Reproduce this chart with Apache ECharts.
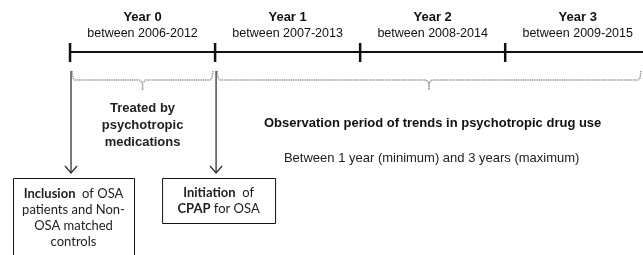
<!DOCTYPE html>
<html><head><meta charset="utf-8">
<script src="https://cdn.jsdelivr.net/npm/echarts@6/dist/echarts.min.js"></script>
<style>html,body{margin:0;padding:0;background:#fff}#c{width:643px;height:255px}</style>
</head><body><div id="c"></div>
<script>
// ---- data ----
const yearLabels = ['Year 0', 'Year 1', 'Year 2', 'Year 3'];
const yearRanges = ['between 2006-2012', 'between 2007-2013', 'between 2008-2014', 'between 2009-2015'];
const yearStarts = [0, 1, 2, 3];
const axisEnd = 3.95;
const periodTitles = ['Treated by\npsychotropic\nmedications', 'Observation period of trends in psychotropic drug use'];
const periodNotes = ['', 'Between 1 year (minimum) and 3 years (maximum)'];
const periodStart = [0, 1];
const periodEnd = [1, 3.95];
const eventYear = [0, 1];
const eventTexts = [
  '{b|Inclusion}  of OSA\npatients and Non-\nOSA matched\ncontrols',
  '{b|Initiation}  of\n{b|CPAP} for OSA'
];

const chart = echarts.init(document.getElementById('c'), null, {renderer: 'canvas'});
const ARIAL = '"Liberation Sans", Arial, sans-serif';
const CAL = 'Lato, "Open Sans", sans-serif';
const pxX = -70 / 145;

const option = {
  animation: false,
  grid: {left: 0, right: 0, top: 0, bottom: 0},
  xAxis: {type: 'value', min: pxX, max: axisEnd, show: false},
  yAxis: {type: 'value', min: 0, max: 255, inverse: true, show: false},
  series: [
    { // timeline main line
      type: 'custom', data: [[yearStarts[0], axisEnd]],
      renderItem: (p, api) => {
        const a = api.coord([api.value(0), 52]), b = api.coord([api.value(1), 52]);
        return {type: 'line', shape: {x1: a[0], y1: a[1], x2: b[0], y2: b[1]}, style: {stroke: '#111', lineWidth: 2}};
      }
    },
    { // ticks and year labels
      type: 'custom', data: yearStarts.map((v, i) => [v, i]),
      renderItem: (p, api) => {
        const v = api.value(0), i = api.value(1);
        const t1 = api.coord([v, 43]), t2 = api.coord([v, 62]);
        const l1 = api.coord([v + 0.5, 17]), l2 = api.coord([v + 0.5, 34]);
        return {type: 'group', children: [
          {type: 'line', shape: {x1: t1[0], y1: t1[1], x2: t2[0], y2: t2[1]}, style: {stroke: '#111', lineWidth: 2.5}},
          {type: 'text', x: l1[0], y: l1[1], style: {text: yearLabels[i], font: 'bold 13px ' + ARIAL, fill: '#111', align: 'center', verticalAlign: 'middle'}},
          {type: 'text', x: l2[0], y: l2[1], style: {text: yearRanges[i], font: '12.5px ' + ARIAL, fill: '#111', align: 'center', verticalAlign: 'middle'}}
        ]};
      }
    },
    { // braces + period labels
      type: 'custom', data: periodStart.map((s, i) => [s, periodEnd[i], i]),
      renderItem: (p, api) => {
        const s = api.value(0), e = api.value(1), i = api.value(2);
        const L = api.coord([s, 80]), R = api.coord([e, 80]);
        const x0 = L[0] + 2, x1 = R[0] - 2, m = (L[0] + R[0]) / 2, y = L[1];
        const pts = [[x0, y - 9], [x0 + 1, y - 2], [x0 + 3, y], [m - 3, y], [m, y + 3], [m, y + 10], [m, y + 3], [m + 3, y], [x1 - 3, y], [x1 - 1, y - 2], [x1, y - 9]];
        const kids = [{type: 'polyline', shape: {points: pts}, style: {stroke: '#999', lineWidth: 1.5, fill: null, lineDash: [1.5, 0.8]}}];
        if (i === 0) {
          const t = api.coord([s + 0.5, 125]);
          kids.push({type: 'text', x: t[0], y: t[1], style: {text: periodTitles[i], font: 'bold 13px ' + ARIAL, lineHeight: 17, fill: '#222', align: 'center', verticalAlign: 'middle'}});
        } else {
          const t = api.coord([s + 1.5, 123]), n = api.coord([s + 1.5, 158]);
          kids.push({type: 'text', x: t[0], y: t[1], style: {text: periodTitles[i], font: 'bold 13px ' + ARIAL, fill: '#111', align: 'center', verticalAlign: 'middle'}});
          kids.push({type: 'text', x: n[0] - 1, y: n[1], style: {text: periodNotes[i], font: '13px ' + ARIAL, fill: '#222', align: 'center', verticalAlign: 'middle'}});
        }
        return {type: 'group', children: kids};
      }
    },
    { // event arrows + boxes
      type: 'custom', data: eventYear.map((v, i) => [v, i]),
      renderItem: (p, api) => {
        const v = api.value(0), i = api.value(1);
        const a = api.coord([v, 71]), b = api.coord([v, 173]);
        const x = a[0] + 1;
        const kids = [
          {type: 'line', shape: {x1: x, y1: a[1], x2: x, y2: b[1]}, style: {stroke: '#333', lineWidth: 1.3}},
          {type: 'polyline', shape: {points: [[x - 6, b[1] - 7], [x, b[1]], [x + 6, b[1] - 7]]}, style: {stroke: '#333', lineWidth: 1.3, fill: null}}
        ];
        const top = api.coord([v, 178])[1];
        let bx, bw, bh;
        if (i === 0) { bx = x - 58; bw = 121; bh = 90; }
        else { bx = x - 54; bw = 113; bh = 45; }
        kids.push({type: 'rect', shape: {x: bx + 0.5, y: top + 0.5, width: bw, height: bh}, style: {stroke: '#111', lineWidth: 1, fill: '#fff'}});
        kids.push({type: 'text', x: bx + bw / 2, y: i === 0 ? top + 40 : top + 23, style: {
          text: eventTexts[i], font: '13px ' + CAL, lineHeight: 16, fill: '#222', align: 'center', verticalAlign: 'middle',
          rich: {b: {font: 'bold 13px ' + CAL, fill: '#222', lineHeight: 16}}
        }});
        return {type: 'group', children: kids};
      }
    }
  ]
};
chart.setOption(option);
</script></body></html>
